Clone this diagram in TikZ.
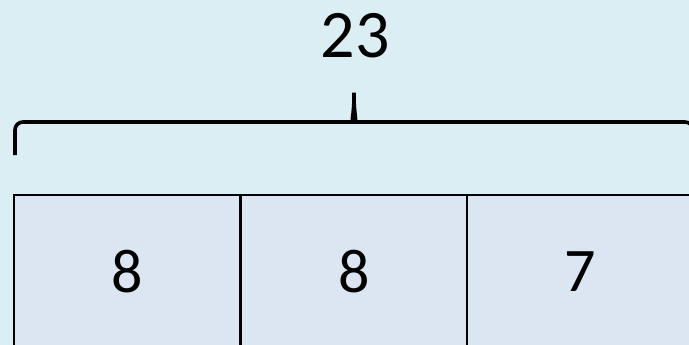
\documentclass[tikz,border=0pt]{standalone}
\usepackage{fontspec}
\setmainfont{Carlito}
\usepackage{tikz}
\definecolor{sumbg}{RGB}{218,238,243}
\definecolor{sumcell}{RGB}{220,230,242}

\begin{document}
\begin{tikzpicture}[x=1pt,y=-1pt,
    cellbox/.style={draw,line width=2.6pt,fill=sumcell,minimum width=227pt,
      minimum height=153pt,inner sep=0pt,font=\fontsize{62}{62}\selectfont}]
  \fill[sumbg] (0,0) rectangle (689,345);
  \useasboundingbox (0,0) rectangle (689,345);
  \clip (0,0) rectangle (689,345);
  \foreach \i/\x/\val in {1/127.5/8,2/354/8,3/580.5/7}
    \node[cellbox] (cell\i) at (\x,271.5) {\val};
  \node[font=\fontsize{68}{68}\selectfont] (total) at (355,36) {23};
  % brace over all three cells
  \draw[line width=3.6pt,rounded corners=8pt] (15,155) -- (15,122) -- (345,122)
    .. controls (351,122) and (354,114) .. (354,88)
    .. controls (354,114) and (357,122) .. (363,122) -- (693,122) -- (693,155);
\end{tikzpicture}
\end{document}
